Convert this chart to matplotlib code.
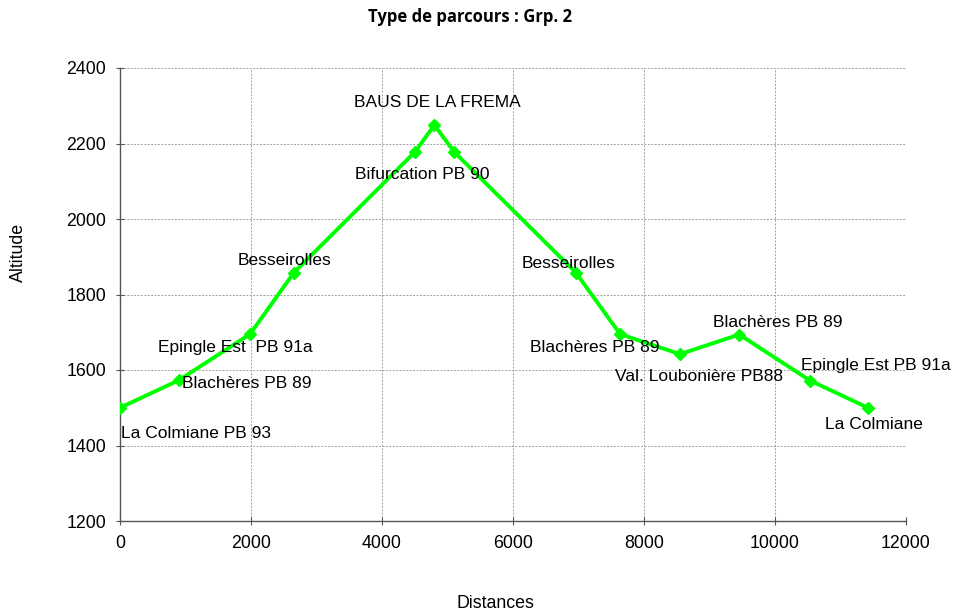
import matplotlib.pyplot as plt

# ---------------------------------------------------------------------------
# Data
# ---------------------------------------------------------------------------
distances = [0, 900, 1985, 2655, 4505, 4800, 5100, 6960, 7635, 8550, 9455, 10535, 11420]
altitudes = [1500, 1573, 1695, 1858, 2178, 2249, 2178, 1858, 1695, 1642, 1694, 1572, 1500]
point_names = ['La Colmiane PB 93', 'Blachères PB 89', 'Epingle Est  PB 91a', 'Besseirolles',
               'Bifurcation PB 90', 'BAUS DE LA FREMA', '', 'Besseirolles', 'Blachères PB 89',
               'Val. Loubonière PB88', 'Blachères PB 89', 'Epingle Est PB 91a', 'La Colmiane']

x_ticks = [0, 2000, 4000, 6000, 8000, 10000, 12000]
y_ticks = [1200, 1400, 1600, 1800, 2000, 2200, 2400]

# label offsets from each point, in pixels
label_offsets = [(76, -26), (68, -3), (-15, -13), (-9, 12), (7, -23), (3, 23), (0, 0),
                 (-7, 9), (-25, -13), (19, -22), (38, 12), (66, 15), (6, -17)]

plt.rcParams['font.family'] = ['Liberation Sans', 'DejaVu Sans']

fig = plt.figure(figsize=(9.54, 6.14), dpi=100)
ax = fig.add_axes([120 / 954, 1 - 521 / 614, 786 / 954, 453 / 614])

ax.plot(distances, altitudes, color='#00ff00', lw=2.8, marker='D', ms=6.5,
        markeredgecolor='#00ff00', zorder=3)

for x, y, name, (dx, dy) in zip(distances, altitudes, point_names, label_offsets):
    if name:
        ax.annotate(name, (x, y), xytext=(dx, dy), textcoords='offset pixels',
                    ha='center', va='center', fontsize=12.5, color='black', zorder=4)

ax.set_xlim(0, 12000)
ax.set_ylim(1200, 2400)
ax.set_xticks(x_ticks)
ax.set_yticks(y_ticks)
ax.tick_params(direction='inout', length=6, width=0.8, color='#555555', labelsize=12.8, pad=7)

ax.grid(True, color='#a0a0a0', linestyle=(0, (2, 1.5)), lw=0.7)
ax.set_axisbelow(True)
for side in ['top', 'right']:
    ax.spines[side].set_visible(False)
for side in ['left', 'bottom']:
    ax.spines[side].set_color('#555555')
    ax.spines[side].set_linewidth(1.0)

fig.text(470 / 954, 1 - 17 / 614, 'Type de parcours : Grp. 2', ha='center', va='center',
         fontsize=12, fontweight='bold', family=['Open Sans', 'DejaVu Sans'])
fig.text(18 / 954, 1 - 252 / 614, 'Altitude', rotation=90, ha='center', va='center', fontsize=12.8)
fig.text(495 / 954, 1 - 603 / 614, 'Distances', ha='center', va='center', fontsize=12.8)

fig.savefig('out.png', dpi=100)
